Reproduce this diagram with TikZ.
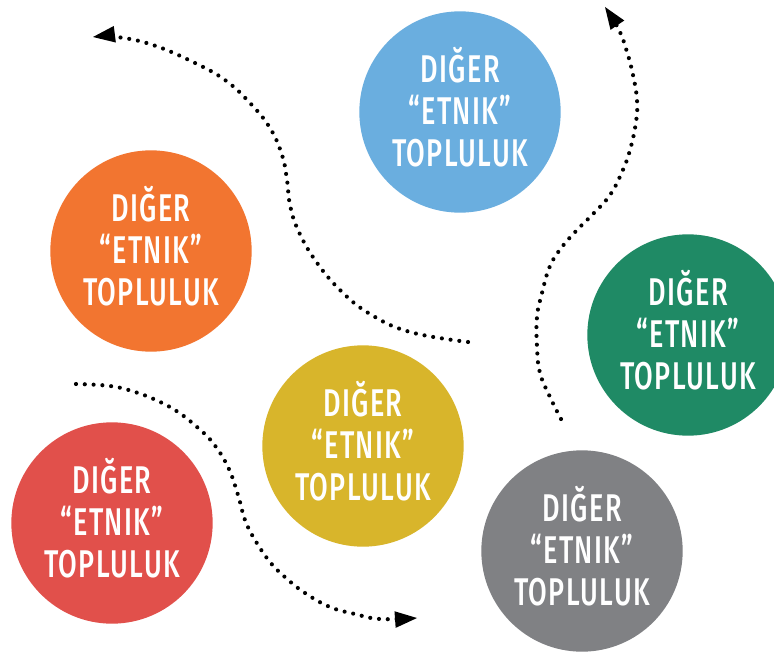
\documentclass[tikz,border=0pt]{standalone}
\usepackage{fontspec}
\setmainfont{Fira Sans}[FakeStretch=0.7, LetterSpace=3.5, UprightFont=* Medium]
\usetikzlibrary{arrows.meta}
\definecolor{cblue}{HTML}{6AAEDF}
\definecolor{corange}{HTML}{F27530}
\definecolor{cgreen}{HTML}{1F8A65}
\definecolor{cyellow}{HTML}{D8B52B}
\definecolor{cred}{HTML}{E1504B}
\definecolor{cgray}{HTML}{808184}
\begin{document}
\begin{tikzpicture}[x=0.75pt,y=-0.75pt,
  circ/.style={circle, minimum size=151pt, inner sep=0pt},
  lbl/.style={inner sep=0pt, text=white, align=center,
    font=\fontsize{29}{31.5}\selectfont},
  dots/.style={line width=3.1pt, line cap=round, dash pattern=on 0pt off 6.6pt,
    -{Triangle[length=16.5pt,width=12.5pt,line width=0pt]}}]
\useasboundingbox (0,0) rectangle (774,653);
\fill[white] (0,0) rectangle (774,653);

\node[circ, fill=cblue]   (blue)   at (460,112) {};
\node[circ, fill=corange] (orange) at (151,251) {};
\node[circ, fill=cgreen]  (green)  at (688,335) {};
\node[circ, fill=cyellow] (yellow) at (363,446) {};
\node[circ, fill=cred]    (red)    at (112,523) {};
\node[circ, fill=cgray]   (gray)   at (582,551) {};

\foreach \c in {blue,orange,green,yellow,red,gray}
  \node[lbl] (t\c) at ([yshift=4pt]\c.center) {DIĞER\\“ETNIK”\\TOPLULUK};

\coordinate (s1) at (468,342);
\coordinate (e1) at (93,37);
\coordinate (s2) at (561,419);
\coordinate (e2) at (605,7);
\coordinate (s3) at (76,384);
\coordinate (e3) at (417,618);

\draw[dots] plot[smooth, tension=0.7] coordinates {(s1) (410,332) (370,314) (340,290) (315,260) (298,230) (290,205) (287,180) (282,155) (270,128) (250,103) (225,80) (193,62) (153,45) (117,37) (e1)};
\draw[dots] plot[smooth, tension=0.7] coordinates {(s2) (550,397) (540,373) (537,347) (537,317) (542,293) (550,266) (562,247) (577,230) (593,214) (610,195) (622,172) (630,150) (636,122) (637,100) (633,75) (627,52) (619,30) (e2)};
\draw[dots] plot[smooth, tension=0.7] coordinates {(s3) (110,386) (135,392) (158,401) (178,412) (197,427) (213,443) (228,467) (238,495) (245,520) (255,540) (270,562) (286,578) (305,593) (330,607) (355,614) (380,619) (e3)};
\end{tikzpicture}
\end{document}
